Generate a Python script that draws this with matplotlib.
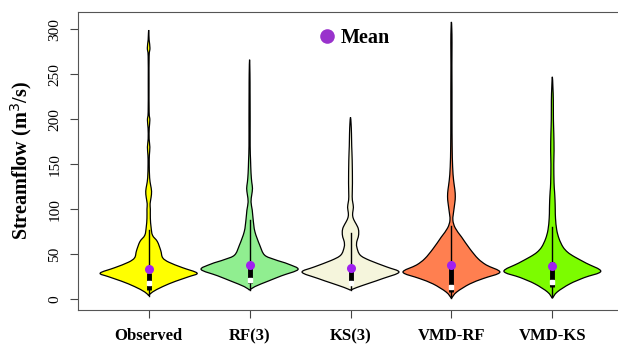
import numpy as np
import matplotlib
matplotlib.use('Agg')
import matplotlib.pyplot as plt
from matplotlib.lines import Line2D
from matplotlib.path import Path
from matplotlib.patches import PathPatch

plt.rcParams['font.family'] = ['Liberation Serif', 'DejaVu Serif']

#################################################################
### DATA
labels = ['Observed', 'RF(3)', 'KS(3)', 'VMD-RF', 'VMD-KS']
colors = ['#FFFF00', '#90EE90', '#F5F5DC', '#FF7F50', '#7CFC00']

# violin outlines: streamflow levels and relative density (1 = widest)
obs_y = [4, 8, 14, 20, 25, 29, 35, 41, 46, 54, 64, 71, 80, 90, 100, 106, 113, 120,
         127, 135, 150, 160, 169, 178, 190, 199, 208, 240, 270, 279, 288, 299]
obs_d = [0, 0.08, 0.29, 0.56, 0.83, 1.0, 0.7, 0.42, 0.29, 0.25, 0.18, 0.08, 0.05,
         0.035, 0.035, 0.03, 0.05, 0.06, 0.04, 0.02, 0.012, 0.015, 0.025, 0.01,
         0.012, 0.025, 0.01, 0.008, 0.01, 0.027, 0.01, 0.0]

rf_y = [10, 14, 20, 26, 33, 39, 44, 49, 60, 75, 88, 99, 108, 116, 123, 130, 140,
        155, 170, 200, 230, 250, 266]
rf_d = [0, 0.11, 0.38, 0.66, 1.0, 0.8, 0.52, 0.31, 0.21, 0.11, 0.075, 0.055, 0.03,
        0.045, 0.06, 0.045, 0.03, 0.02, 0.012, 0.012, 0.01, 0.008, 0]

ks_y = [10, 13, 18, 23, 30, 36, 43, 49, 58, 64, 69, 75, 80, 86, 91, 96, 102, 108,
        114, 129, 154, 170, 184, 195, 202]
ks_d = [0, 0.13, 0.4, 0.67, 1.0, 0.74, 0.4, 0.2, 0.13, 0.13, 0.16, 0.17, 0.15, 0.09,
        0.05, 0.045, 0.06, 0.045, 0.035, 0.04, 0.035, 0.025, 0.02, 0.012, 0]

vrf_y = [1, 8, 17, 23, 30, 38, 45, 56, 69, 79, 88, 99, 107, 114, 122, 132, 147, 170,
         200, 230, 260, 285, 300, 308]
vrf_d = [0, 0.11, 0.38, 0.66, 1.0, 0.72, 0.55, 0.38, 0.21, 0.08, 0.03, 0.05, 0.07,
         0.08, 0.07, 0.045, 0.025, 0.015, 0.012, 0.012, 0.01, 0.012, 0.008, 0]

vks_y = [1, 8, 17, 24, 31, 40, 47, 52, 58, 67, 77, 90, 100, 110, 120, 129, 150, 165,
         184, 200, 221, 235, 247]
vks_d = [0, 0.1, 0.36, 0.66, 1.0, 0.7, 0.46, 0.32, 0.22, 0.14, 0.09, 0.065, 0.06,
         0.055, 0.045, 0.035, 0.03, 0.035, 0.03, 0.022, 0.02, 0.012, 0]

# boxplot stats: lower whisker, q1, median, q3, upper whisker, mean
lo_whisk = [4, 10, 10, 1, 2]
q1 = [10, 18, 16, 8, 13]
medians = [18, 21, 18, 13, 19]
q3 = [29, 36, 34, 36, 41]
hi_whisk = [77, 88, 73, 81, 80]
means = [34, 38, 35, 38, 37]

profiles = [(obs_y, obs_d), (rf_y, rf_d), (ks_y, ks_d), (vrf_y, vrf_d), (vks_y, vks_d)]


def smooth_verts(pts):
    # catmull-rom through the points, as cubic bezier segments
    pts = np.asarray(pts, dtype=float)
    ext = np.vstack([pts[0], pts, pts[-1]])
    verts = [pts[0]]
    codes = [Path.MOVETO]
    for k in range(1, len(ext) - 2):
        p0, p1, p2, p3 = ext[k - 1], ext[k], ext[k + 1], ext[k + 2]
        verts += [p1 + (p2 - p0) / 6, p2 - (p3 - p1) / 6, p2]
        codes += [Path.CURVE4] * 3
    return verts, codes


def violin_patch(x0, yy, dd, half, color):
    yy = np.array(yy, dtype=float)
    dd = np.array(dd, dtype=float) * half
    right = np.column_stack([x0 + dd, yy])
    left = np.column_stack([x0 - dd, yy])[::-1]
    outline = np.vstack([right, left[1:]])
    verts, codes = smooth_verts(outline)
    return PathPatch(Path(verts, codes), facecolor=color, edgecolor='black',
                     linewidth=0.9, zorder=2)


#################################################################
### PLOT
fig = plt.figure(figsize=(6.18, 3.44), dpi=100)
ax = fig.add_axes([78/618, 1-310/344, (623-78)/618, (310-12)/344])

half = 0.48
for i, (yy, dd) in enumerate(profiles):
    x0 = i + 1
    ax.add_patch(violin_patch(x0, yy, dd, half, colors[i]))
    ax.plot([x0, x0], [lo_whisk[i], hi_whisk[i]], color='black', lw=1.0, zorder=3)
    ax.plot([x0, x0], [q1[i], q3[i]], color='black', lw=3.5,
            solid_capstyle='butt', zorder=3)
    ax.plot(x0, medians[i], marker='s', ms=2.2, color='white', mec='white', zorder=4)
    ax.plot(x0, means[i], marker='o', ms=6.5, color='#A020F0', mec='none', zorder=5)

ax.set_xlim(0.3, 5.7)
ax.set_ylim(-12, 319)
ax.set_xticks(range(1, 6))
ax.set_xticklabels(labels, fontweight='bold', fontsize=12)
ax.set_yticks(range(0, 301, 50))
ax.set_yticklabels([str(v) for v in range(0, 301, 50)], rotation=90, va='center',
                   fontsize=11)
ax.tick_params(axis='both', length=6, width=0.8, color='#444444')
ax.tick_params(axis='x', pad=7)
ax.tick_params(axis='y', pad=6)
for s in ax.spines.values():
    s.set_color('#555555')
    s.set_linewidth(0.8)
ax.set_ylabel('Streamflow (m$^3$/s)', fontweight='bold', fontsize=14.5, labelpad=10)

handle = Line2D([], [], marker='o', ls='none', ms=10.5, color='#9932CC', mec='none')
leg = ax.legend([handle], ['Mean'], loc='center left', bbox_to_anchor=(0.424, 0.913),
                frameon=False, borderaxespad=0, handlelength=1.0, handletextpad=0.15,
                prop={'weight': 'bold', 'size': 14.5})

fig.savefig('out.png', dpi=100)
